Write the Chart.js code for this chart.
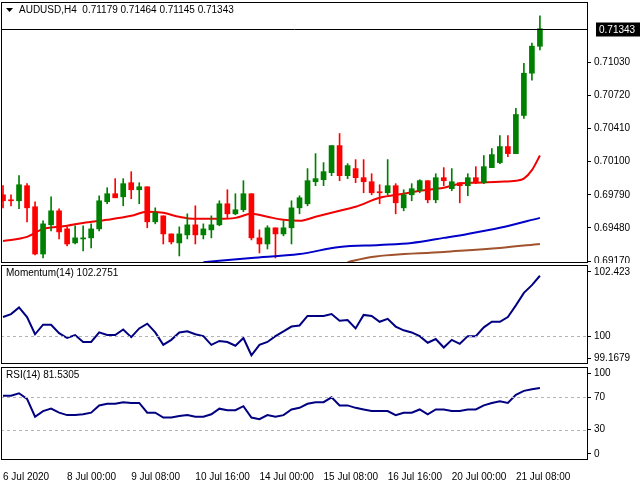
<!DOCTYPE html>
<html>
<head>
<meta charset="utf-8">
<script src="https://cdn.jsdelivr.net/npm/chart.js@4"></script>
<style>
  body { margin: 0; background: #fff; }
  .pane { position: absolute; left: 0; }
  canvas { display: block; }
</style>
</head>
<body>
<div class="pane" style="top:0"><canvas id="price" width="640" height="263"></canvas></div>
<div class="pane" style="top:263px"><canvas id="mom" width="640" height="102"></canvas></div>
<div class="pane" style="top:365px"><canvas id="rsi" width="640" height="115"></canvas></div>
<script>
// AUDUSD H4 candles
const opens  = [0.69790,0.69743,0.69734,0.69875,0.69678,0.69236,0.69509,0.69640,0.69471,0.69340,0.69377,0.69387,0.69471,0.69725,0.69800,0.69771,0.69903,0.69837,0.69865,0.69537,0.69593,0.69424,0.69340,0.69415,0.69509,0.69415,0.69462,0.69509,0.69706,0.69612,0.69650,0.69800,0.69387,0.69330,0.69481,0.69424,0.69481,0.69668,0.69706,0.69912,0.69931,0.69997,0.70250,0.69969,0.70035,0.69950,0.69912,0.69818,0.69809,0.69875,0.69668,0.69790,0.69828,0.69922,0.69743,0.69950,0.69847,0.69903,0.69875,0.69950,0.69903,0.70044,0.70091,0.70241,0.70175,0.70532,0.70927,0.71179];
const highs  = [0.69875,0.69790,0.69969,0.69894,0.69725,0.69546,0.69771,0.69659,0.69490,0.69500,0.69500,0.69518,0.69781,0.69856,0.69941,0.69941,0.70006,0.69903,0.69865,0.69668,0.69593,0.69424,0.69490,0.69612,0.69687,0.69518,0.69593,0.69734,0.69837,0.69800,0.69922,0.69800,0.69462,0.69500,0.69481,0.69546,0.69734,0.69781,0.70035,0.70175,0.70091,0.70250,0.70363,0.70081,0.70119,0.70119,0.69987,0.69884,0.70119,0.69894,0.69837,0.69894,0.69931,0.69922,0.69987,0.70044,0.70035,0.69903,0.69987,0.70053,0.70157,0.70222,0.70344,0.70344,0.70598,0.71020,0.71208,0.71464];
const lows   = [0.69668,0.69687,0.69659,0.69537,0.69227,0.69199,0.69453,0.69377,0.69312,0.69330,0.69265,0.69293,0.69453,0.69706,0.69762,0.69687,0.69753,0.69706,0.69481,0.69518,0.69330,0.69330,0.69218,0.69377,0.69330,0.69377,0.69387,0.69500,0.69565,0.69603,0.69631,0.69368,0.69246,0.69283,0.69199,0.69406,0.69330,0.69612,0.69687,0.69875,0.69875,0.69969,0.69922,0.69941,0.69903,0.69809,0.69790,0.69706,0.69790,0.69612,0.69640,0.69734,0.69809,0.69715,0.69715,0.69875,0.69828,0.69715,0.69781,0.69894,0.69894,0.70044,0.70081,0.70147,0.70175,0.70504,0.70861,0.71145];
const closes = [0.69734,0.69734,0.69884,0.69668,0.69236,0.69518,0.69640,0.69443,0.69330,0.69387,0.69387,0.69471,0.69734,0.69800,0.69762,0.69894,0.69837,0.69865,0.69537,0.69621,0.69424,0.69349,0.69424,0.69509,0.69415,0.69471,0.69509,0.69706,0.69612,0.69650,0.69800,0.69387,0.69330,0.69481,0.69424,0.69481,0.69668,0.69762,0.69922,0.69941,0.70006,0.70250,0.69969,0.70063,0.69950,0.69912,0.69809,0.69809,0.69875,0.69715,0.69790,0.69847,0.69922,0.69743,0.69950,0.69922,0.69912,0.69875,0.69950,0.69903,0.70053,0.70166,0.70241,0.70175,0.70541,0.70927,0.71180,0.71343];

// moving averages (candle index, value)
const maRedIdx   = [0,3,5,8,10,13,16,18,20,22,24,27,29,31,33,35,37,39,42,44,47,50,52,55,57,59,62,64,65,66,67];
const maRedVal   = [0.69358,0.69396,0.69471,0.69500,0.69527,0.69556,0.69593,0.69631,0.69621,0.69584,0.69565,0.69565,0.69574,0.69612,0.69584,0.69556,0.69546,0.69584,0.69640,0.69678,0.69762,0.69800,0.69828,0.69856,0.69894,0.69903,0.69912,0.69922,0.69941,0.70020,0.70157];
const maBlueIdx  = [25,31,37,42,47,51,55,58,62,67];
const maBlueVal  = [0.69160,0.69199,0.69236,0.69302,0.69321,0.69340,0.69387,0.69424,0.69481,0.69574];
const maBrownIdx = [43,46,55,62,67];
const maBrownVal = [0.69160,0.69208,0.69255,0.69293,0.69330];

const momentum = [100.72,100.83,101.08,100.72,100.07,100.43,100.43,100.11,99.93,100.04,99.78,99.78,100.14,100.04,100.04,100.25,99.96,100.29,100.47,100.14,99.67,99.86,100.14,100.18,100.07,100.00,99.67,99.82,99.78,99.64,99.93,99.28,99.67,99.78,100.00,100.18,100.36,100.40,100.76,100.76,100.76,100.83,100.58,100.61,100.29,100.80,100.76,100.54,100.65,100.36,100.22,100.14,100.00,99.75,99.89,99.57,99.86,99.71,100.00,100.00,100.33,100.54,100.54,100.72,101.16,101.63,101.92,102.2751];
const rsi = [72,72,75,68,46,53,56,51,48,48,49,51,60,62,62,64,63,63,51,51,45,45,47,48,46,46,49,56,54,54,59,45,43,48,46,48,55,57,62,64,64,70,60,60,57,55,53,53,53,48,51,51,55,49,55,55,53,53,55,55,60,63,65,63,73,78,80,81.5305];

const priceTicks = [0.69170,0.69480,0.69790,0.70100,0.70410,0.70720,0.71030];
const momTicks = [99.1679,100,102.423];
const rsiTicks = [0,30,70,100];
const timeLabels = ['6 Jul 2020','8 Jul 00:00','9 Jul 08:00','10 Jul 16:00','14 Jul 00:00','15 Jul 08:00','16 Jul 16:00','20 Jul 00:00','21 Jul 08:00'];
const timeIdx = [0,8,16,24,32,40,48,56,64];

const FONT = 'Liberation Sans';
const UP = '#008000', DOWN = '#ff0000', NAVY = '#000080';

const xScale = (show) => ({
  type: 'linear', min: -0.25, max: 73, display: show, offset: false,
  grid: { display: false }, border: { display: false },
  afterBuildTicks: s => { s.ticks = timeIdx.map(v => ({ value: v })); },
  afterFit: s => { s.paddingLeft = 0; s.paddingRight = 0; if (show) s.height = 20; },
  ticks: {
    autoSkip: false, maxRotation: 0, align: 'start', padding: 3,
    color: '#000', font: { family: FONT, size: 10 },
    callback: v => timeLabels[timeIdx.indexOf(v)]
  }
});
const yScale = (min, max, ticks, fmt) => ({
  position: 'right', min: min, max: max,
  afterFit: s => { s.width = 52; s.paddingTop = 0; s.paddingBottom = 0; },
  afterBuildTicks: s => { s.ticks = ticks.map(v => ({ value: v })); },
  grid: { drawOnChartArea: false, tickLength: 3, color: '#000' },
  border: { display: false },
  ticks: { color: '#000', padding: 3, font: { family: FONT, size: 10 }, callback: fmt }
});

// frame, title, dashed levels
const panePlugin = {
  id: 'pane',
  afterDraw(chart, args, opts) {
    const c = chart.ctx, a = chart.chartArea, y = chart.scales.y;
    c.save();
    (opts.levels || []).forEach(v => {
      const py = Math.round(y.getPixelForValue(v)) + 0.5;
      c.strokeStyle = '#b4b4b4'; c.lineWidth = 1; c.setLineDash([3, 3]);
      c.beginPath(); c.moveTo(a.left, py); c.lineTo(a.right, py); c.stroke();
    });
    c.setLineDash([]);
    if (opts.lastPrice) {
      const py = Math.round(y.getPixelForValue(opts.lastPrice)) + 0.5;
      c.strokeStyle = '#000'; c.beginPath(); c.moveTo(a.left, py); c.lineTo(a.right, py); c.stroke();
      c.fillStyle = '#000'; c.fillRect(a.right + 8, py - 7, 44, 14);
      c.fillStyle = '#fff'; c.font = '10px ' + FONT; c.textBaseline = 'middle';
      c.fillText(opts.lastPrice.toFixed(5), a.right + 11, py + 0.5);
    }
    c.strokeStyle = '#000'; c.lineWidth = 1;
    c.strokeRect(a.left + 0.5, a.top + 0.5, a.right - a.left - 1, a.bottom - a.top - 1);
    c.fillStyle = '#000'; c.font = '10px ' + FONT; c.textBaseline = 'top';
    let tx = a.left + 5;
    if (opts.arrow) {
      c.beginPath(); c.moveTo(a.left + 5, a.top + 6); c.lineTo(a.left + 12, a.top + 6); c.lineTo(a.left + 8.5, a.top + 10); c.fill();
      tx = a.left + 18;
    }
    c.fillText(opts.title, tx, a.top + 3);
    c.restore();
  }
};
Chart.register(panePlugin);

const idx = opens.map((v, i) => i);
const colors = idx.map(i => closes[i] >= opens[i] ? UP : DOWN);
const maLine = (xs, ys, color) => ({
  type: 'line', data: xs.map((x, i) => ({ x: x, y: ys[i] })), borderColor: color,
  borderWidth: 2, pointRadius: 0, cubicInterpolationMode: 'monotone'
});

new Chart(document.getElementById('price'), {
  data: {
    datasets: [
      maLine(maBrownIdx, maBrownVal, '#a0522d'),
      maLine(maBlueIdx, maBlueVal, '#0000c8'),
      { type: 'bar', data: idx.map(i => ({ x: i, y: [lows[i], highs[i]] })), backgroundColor: colors, barThickness: 1, grouped: false },
      { type: 'bar', data: idx.map(i => ({ x: i, y: [opens[i], closes[i]] })), backgroundColor: colors, barThickness: 5, grouped: false, minBarLength: 1 },
      maLine(maRedIdx, maRedVal, '#f00000')
    ]
  },
  options: {
    responsive: false, animation: false, devicePixelRatio: 1,
    layout: { padding: { left: 1, top: 2, right: 0, bottom: 0 } },
    plugins: { legend: { display: false }, tooltip: { enabled: false },
      pane: { title: 'AUDUSD,H4  0.71179 0.71464 0.71145 0.71343', arrow: true, lastPrice: 0.71343 } },
    scales: { x: xScale(false), y: yScale(0.69152, 0.71593, priceTicks, v => v.toFixed(5)) }
  }
});

new Chart(document.getElementById('mom'), {
  type: 'line',
  data: { datasets: [{ data: idx.map(i => ({ x: i, y: momentum[i] })), borderColor: NAVY, borderWidth: 2, pointRadius: 0, tension: 0 }] },
  options: {
    responsive: false, animation: false, devicePixelRatio: 1,
    layout: { padding: { left: 1, top: 2, right: 0, bottom: 1 } },
    plugins: { legend: { display: false }, tooltip: { enabled: false },
      pane: { title: 'Momentum(14) 102.2751', levels: [100] } },
    scales: { x: xScale(false), y: yScale(98.95, 102.68, momTicks, v => String(v)) }
  }
});

new Chart(document.getElementById('rsi'), {
  type: 'line',
  data: { datasets: [{ data: idx.map(i => ({ x: i, y: rsi[i] })), borderColor: NAVY, borderWidth: 2, pointRadius: 0, tension: 0 }] },
  options: {
    responsive: false, animation: false, devicePixelRatio: 1,
    layout: { padding: { left: 1, top: 2, right: 0, bottom: 0 } },
    plugins: { legend: { display: false }, tooltip: { enabled: false },
      pane: { title: 'RSI(14) 81.5305', levels: [30, 70] } },
    scales: { x: xScale(true), y: yScale(-7.5, 107.5, rsiTicks, v => String(v)) }
  }
});
</script>
</body>
</html>
